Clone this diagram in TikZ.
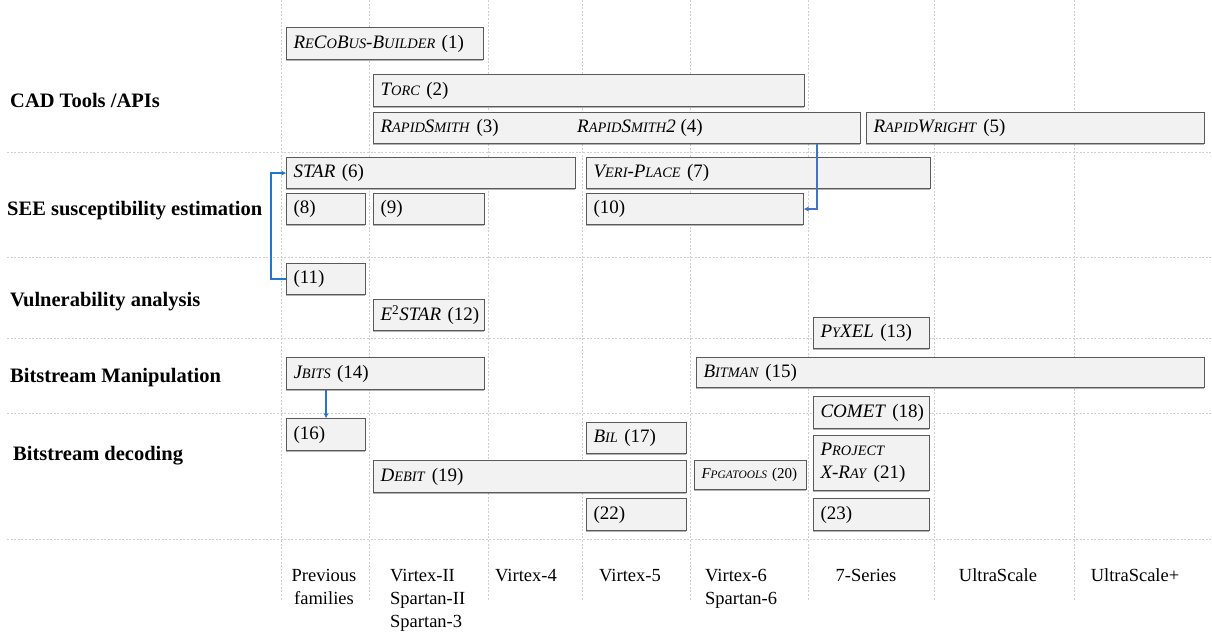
\documentclass[tikz,border=0pt]{standalone}
\usepackage{fontspec}
\setmainfont{Liberation Serif}
\usetikzlibrary{arrows.meta,shadows}

\definecolor{boxfill}{HTML}{F2F2F2}
\definecolor{boxedge}{HTML}{5A5A5A}
\definecolor{gridc}{HTML}{CFCFCF}
\definecolor{linkA}{HTML}{1F77D0}
\definecolor{linkB}{HTML}{4472C4}

% hand-made small capitals
\def\lcsize{14.4}
\newcommand\lc[1]{{\fontsize{\lcsize}{\lcsize}\selectfont #1}}

\tikzset{
  gridline/.style={gridc, line width=0.6pt, dash pattern=on 2pt off 1.6pt},
  tool/.style={draw=boxedge, line width=1.1pt, fill=boxfill, anchor=north west,
    inner xsep=7pt, inner ysep=0pt, align=left,
    drop shadow={shadow xshift=-0.8pt, shadow yshift=-1.3pt, opacity=0.3, fill=black},
    font=\fontsize{19}{23}\selectfont},
  rowlabel/.style={anchor=base west, inner sep=0pt, font=\fontsize{20.5}{24}\selectfont\bfseries},
  family/.style={anchor=base, inner sep=0pt, font=\fontsize{18.5}{23}\selectfont},
  link/.style={line width=1.4pt, -{Stealth[length=5pt,width=5pt]}}
}

\begin{document}
\begin{tikzpicture}[x=1pt,y=-1pt]
\useasboundingbox (0,0) rectangle (1212,633);

% dashed grid: device-family columns and category rows
\foreach \gx in {281,369,488,582,690,808,934,1074}
  \draw[gridline] (\gx,0) -- (\gx,600);
\foreach \gy in {152,257,338,413,539}
  \draw[gridline] (7,\gy) -- (1212,\gy);

% category labels
\node[rowlabel] (lcad)  at (10,107)   {CAD Tools /APIs};
\node[rowlabel] (lsee)  at (7,215)    {SEE susceptibility estimation};
\node[rowlabel] (lvul)  at (10,306)   {Vulnerability analysis};
\node[rowlabel] (lbm)   at (10,382.5) {Bitstream Manipulation};
\node[rowlabel] (lbd)   at (13,460)   {Bitstream decoding};

% CAD tools / APIs
\node[tool, text width=183pt, minimum height=32pt] (rcb) at (286,27)
  {\mbox{\textit{R\lc{E}C\lc{O}B\lc{US}-B\lc{UILDER}} (1)}};
\node[tool, text width=417pt, minimum height=32pt] (torc) at (373,74)
  {\mbox{\textit{T\lc{ORC}} (2)}};
\node[tool, text width=473pt, minimum height=31pt] (rs) at (373,112)
  {\mbox{\textit{R\lc{APID}S\lc{MITH}} (3)}};
\node[anchor=west, inner sep=0pt, font=\fontsize{19}{23}\selectfont] (rs2) at (577,127.5)
  {\textit{R\lc{APID}S\lc{MITH}2} (4)};
\node[tool, text width=324pt, minimum height=31pt] (rw) at (866,112)
  {\mbox{\textit{R\lc{APID}W\lc{RIGHT}} (5)}};

% SEE susceptibility estimation
\node[tool, text width=275pt, minimum height=31pt] (star) at (286,157)
  {\mbox{\textit{STAR} (6)}};
\node[tool, text width=330pt, minimum height=31pt] (veri) at (586,157)
  {\mbox{\textit{V\lc{ERI}-P\lc{LACE}} (7)}};
\node[tool, text width=65pt, minimum height=31pt] (n8) at (286,193) {(8)};
\node[tool, text width=97pt, minimum height=31pt] (n9) at (373,193) {(9)};
\node[tool, text width=203pt, minimum height=31pt] (n10) at (586,193) {(10)};

% vulnerability analysis
\node[tool, text width=65pt, minimum height=31pt] (n11) at (286,263) {(11)};
\node[tool, text width=97pt, minimum height=31pt] (e2s) at (373,299)
  {\mbox{\textit{E}\textsuperscript{2}\textit{STAR} (12)}};
\node[tool, text width=102pt, minimum height=31pt] (pyx) at (813,317)
  {\mbox{\textit{P\lc{Y}XEL} (13)}};

% bitstream manipulation
\node[tool, text width=184pt, minimum height=32pt] (jb) at (286,357)
  {\mbox{\textit{J\lc{BITS}} (14)}};
\node[tool, text width=494pt, minimum height=30pt] (bm) at (696,357)
  {\mbox{\textit{B\lc{ITMAN}} (15)}};

% bitstream decoding
\node[tool, text width=102pt, minimum height=32pt] (comet) at (813,396)
  {\mbox{\textit{COMET} (18)}};
\node[tool, text width=65pt, minimum height=32pt] (n16) at (286,418) {(16)};
\node[tool, text width=86pt, minimum height=31pt] (bil) at (586,422)
  {\mbox{\textit{B\lc{IL}} (17)}};
\node[tool, text width=102pt, minimum height=55pt] (pxr) at (813,435)
  {\mbox{\textit{P\lc{ROJECT}}}\\\mbox{\textit{X-R\lc{AY}} (21)}};
\node[tool, text width=299pt, minimum height=32pt] (debit) at (373,460)
  {\mbox{\textit{D\lc{EBIT}} (19)}};
\node[tool, text width=98pt, minimum height=29pt, font=\fontsize{15}{18}\selectfont\def\lcsize{11.4}] (fpga) at (694,460)
  {\mbox{\textit{F\lc{PGATOOLS}} (20)}};
\node[tool, text width=86pt, minimum height=32pt] (n22) at (586,498) {(22)};
\node[tool, text width=102pt, minimum height=32pt] (n23) at (813,498) {(23)};

% links between tools
\draw[link, linkA] (n11.west) -- ++(-15,0) |- (star.west);
\coordinate (rsdrop) at (817,143.5);
\draw[link, linkB] (rsdrop) |- (n10.east);
\draw[link, linkA] (jb.south -| n16.north) -- (n16.north);

% device families (base anchor sits on the last line)
\node[family, align=center] (fprev) at (324,604) {Previous\\families};
\node[family, align=left, anchor=base west] (fv2) at (390,627) {Virtex-II\\Spartan-II\\Spartan-3};
\node[family] (fv4) at (526,581) {Virtex-4};
\node[family] (fv5) at (630,581) {Virtex-5};
\node[family, align=left, anchor=base west] (fv6) at (705,604) {Virtex-6\\Spartan-6};
\node[family] (f7s) at (866,581) {7-Series};
\node[family] (fus) at (998,581) {UltraScale};
\node[family] (fusp) at (1135,581) {UltraScale+};
\end{tikzpicture}
\end{document}
